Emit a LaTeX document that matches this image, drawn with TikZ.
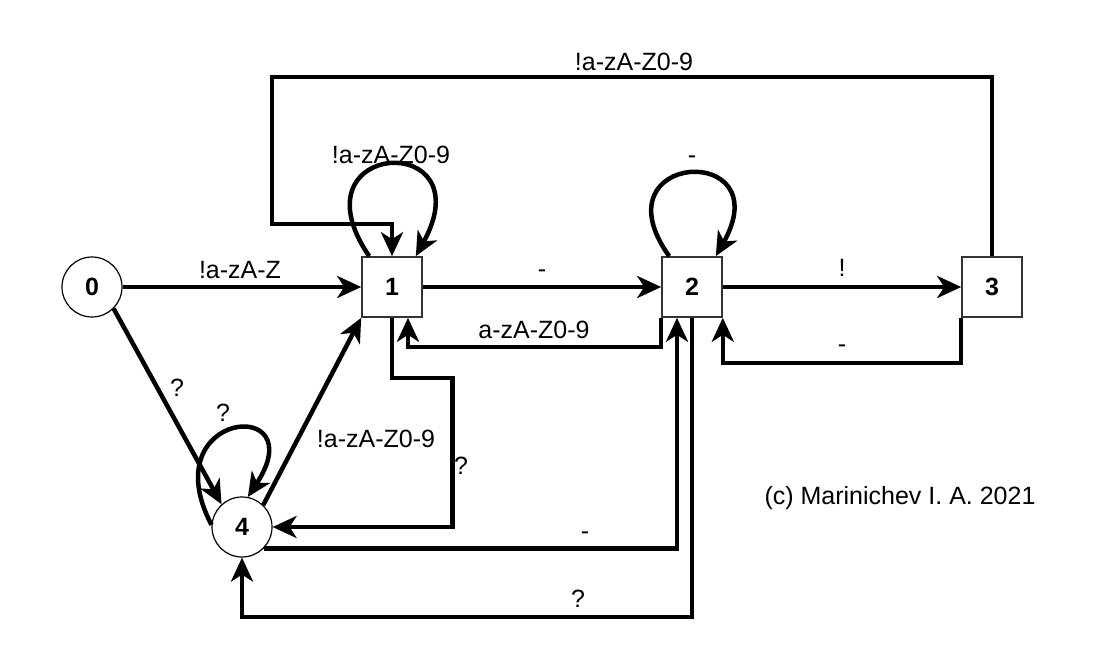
\documentclass[tikz,border=0pt]{standalone}
\usepackage{fontspec}
\setmainfont{Liberation Sans}
\usetikzlibrary{arrows.meta}

\begin{document}
\begin{tikzpicture}[x=1pt,y=-1pt,font=\fontsize{25}{29}\selectfont,
    sq/.style={draw=black!80,line width=1.6pt,fill=white,minimum size=60pt,inner sep=0pt,font=\fontsize{25}{29}\selectfont\bfseries},
    rd/.style={sq,circle,draw=black,line width=1.2pt},
    tr/.style={line width=4.5pt,-{Stealth[length=24pt,width=22pt,inset=7pt]}},
    lbl/.style={inner sep=0pt,text height=18pt,text depth=0pt}]
  \useasboundingbox (0,0) rectangle (1093,668);
  \node[rd] (s0) at (92,287) {0};
  \foreach \i/\x in {1/392,2/692,3/992}{\node[sq] (s\i) at (\x,287) {\i};}
  \node[rd] (s4) at (242,527) {4};
  % straight transitions
  \draw[tr] (s0) -- (s1);
  \draw[tr] (s1) -- (s2);
  \draw[tr] (s2) -- (s3);
  \draw[tr] (s0.-45) -- (s4.132);
  \draw[tr] (s4.46) -- (s1.south west);
  % loops
  \draw[tr] (s4.176) .. controls +(-60,-115) and +(67,-102) .. (s4.79);
  \draw[tr] ([xshift=8pt]s1.north west) .. controls +(-80,-117) and +(70,-127) .. ([xshift=-7pt]s1.north east);
  \draw[tr] ([xshift=8pt]s2.north west) .. controls +(-75,-105) and +(65,-115) .. ([xshift=-7pt]s2.north east);
  % routed transitions
  \draw[tr] (s3.north) |- (272,77) |- ([yshift=32pt]s1.north) -- (s1.north);
  \draw[tr] (s2.south west) -- ++(0,29) -| ([xshift=16pt]s1.south);
  \draw[tr] (s3.south west) -- ++(0,45) -| (s2.south east);
  \draw[tr] (s1.south) -- ++(0,60) -| ([xshift=180pt]s4.east) -- (s4.east);
  \draw[tr] (s4.-45) -| ([xshift=-15pt]s2.south);
  \draw[tr] (s2.south) -- ++(0,299) -| (s4.south);
  % labels
  \node[lbl] (t01) at (240,270) {!a-zA-Z};
  \node[lbl] (t04) at (177,388) {?};
  \node[lbl] (t44) at (223,412) {?};
  \node[lbl] (t41) at (376,438) {!a-zA-Z0-9};
  \node[lbl] (t14) at (461,465) {?};
  \node[lbl] (t11) at (391,155) {!a-zA-Z0-9};
  \node[lbl] (t31) at (634,62) {!a-zA-Z0-9};
  \node[lbl] (t12) at (542,269) {-};
  \node[lbl] (t21) at (534,330) {a-zA-Z0-9};
  \node[lbl] (t22) at (692,155) {-};
  \node[lbl] (t23) at (842,268) {!};
  \node[lbl] (t32) at (842,344) {-};
  \node[lbl] (t42) at (585,530) {-};
  \node[lbl] (t24) at (578,598) {?};
  \node[lbl] (cpy) at (900,495) {(c) Marinichev I. A. 2021};
\end{tikzpicture}
\end{document}
